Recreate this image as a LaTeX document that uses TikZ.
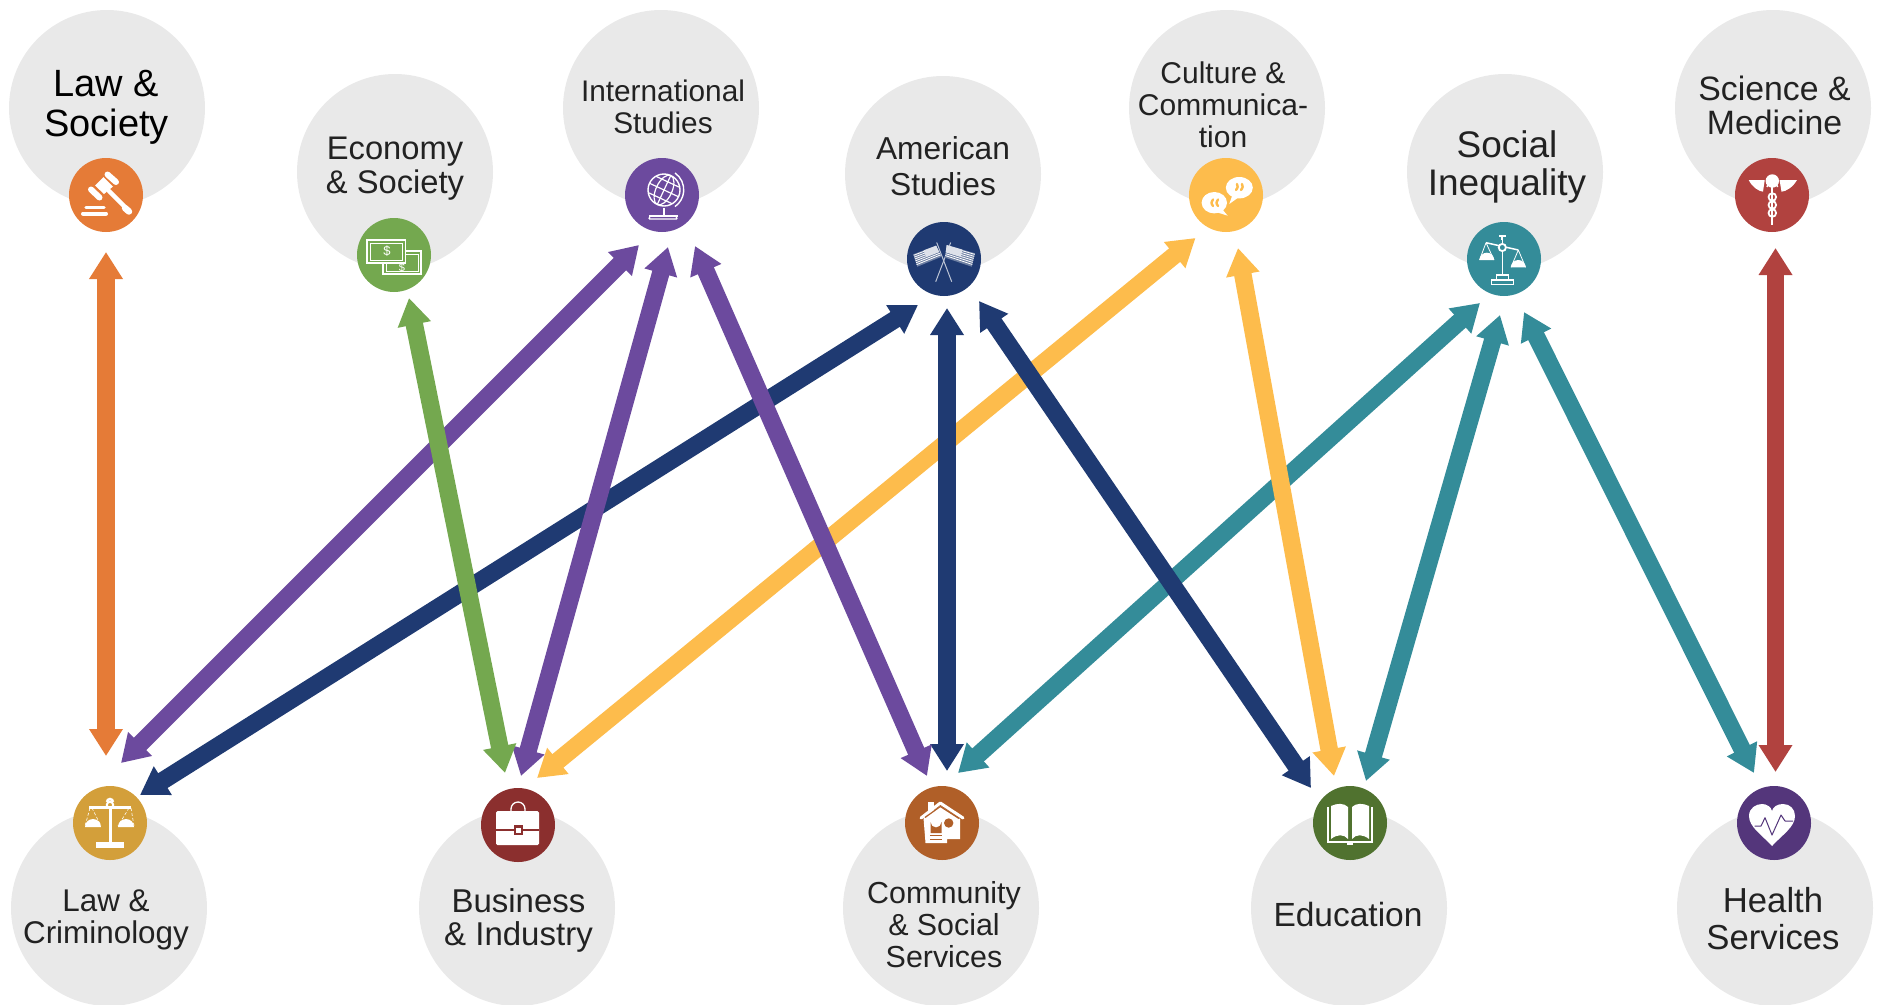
\documentclass[tikz,border=0pt]{standalone}
\usepackage{fontspec}
\setmainfont{Liberation Sans}
\usetikzlibrary{arrows.meta,calc}
\definecolor{greyc}{HTML}{E9E9E9}
\definecolor{txt}{HTML}{222222}
\definecolor{cOrange}{HTML}{E57B37}
\definecolor{cGreen}{HTML}{74A84F}
\definecolor{cPurple}{HTML}{6C4A9E}
\definecolor{cNavy}{HTML}{1F3A72}
\definecolor{cYellow}{HTML}{FDBC4C}
\definecolor{cTeal}{HTML}{348C99}
\definecolor{cRed}{HTML}{B1423F}
\definecolor{cGold}{HTML}{D39F3A}
\definecolor{cWine}{HTML}{8B2F2E}
\definecolor{cBrown}{HTML}{B05F28}
\definecolor{cLeaf}{HTML}{50722F}
\definecolor{cPlum}{HTML}{54367B}
\tikzset{
  bigc/.style={circle,fill=greyc,minimum size=196pt,inner sep=0pt},
  smallc/.style={circle,fill=#1,minimum size=74pt,inner sep=0pt},
  lab/.style={align=center,inner sep=0pt,anchor=base,text=txt},
  arr/.style={draw=#1,line width=17.5pt,{Triangle[width=32pt,length=27pt,fill=#1]}-{Triangle[width=32pt,length=27pt,fill=#1]}},
  ic/.style={white,line cap=round,line join=round},
}
\begin{document}
\begin{tikzpicture}[x=1pt,y=-1pt]
\useasboundingbox (0,0) rectangle (1881,1004);
% big circles
\node[bigc] (bLawSoc) at (107,108) {};
\node[bigc] (bEcon) at (395,172) {};
\node[bigc] (bIntl) at (661,108) {};
\node[bigc] (bAmer) at (943,174) {};
\node[bigc] (bCult) at (1227,108) {};
\node[bigc] (bSocial) at (1505,172) {};
\node[bigc] (bSci) at (1773,108) {};
\node[bigc] (bCrim) at (109,908) {};
\node[bigc] (bBus) at (517,908) {};
\node[bigc] (bComm) at (941,908) {};
\node[bigc] (bEdu) at (1349,908) {};
\node[bigc] (bHealth) at (1775,908) {};
% small circles
\node[smallc=cOrange] (sLawSoc) at (106,195) {};
\node[smallc=cGreen] (sEcon) at (394,255) {};
\node[smallc=cPurple] (sIntl) at (662,195) {};
\node[smallc=cNavy] (sAmer) at (944,259) {};
\node[smallc=cYellow] (sCult) at (1226,195) {};
\node[smallc=cTeal] (sSocial) at (1504,259) {};
\node[smallc=cRed] (sSci) at (1772,195) {};
\node[smallc=cGold] (sCrim) at (110,823) {};
\node[smallc=cWine] (sBus) at (518,825) {};
\node[smallc=cBrown] (sComm) at (942,823) {};
\node[smallc=cLeaf] (sEdu) at (1350,823) {};
\node[smallc=cPlum] (sHealth) at (1774,823) {};
% labels
\node[lab,text=black,font=\fontsize{38}{40}\selectfont] (tLawSoc) at (106.5,136.5) {Law \&\\Society};
\node[lab,font=\fontsize{32.7}{34}\selectfont] (tEcon) at (395,193.5) {Economy\\\& Society};
\node[lab,font=\fontsize{29.8}{32}\selectfont] (tIntl) at (663,133) {International\\Studies};
\node[lab,font=\fontsize{31.7}{36}\selectfont] (tAmer) at (943,195) {American\\Studies};
\node[lab,font=\fontsize{30}{32}\selectfont] (tCult) at (1223,147.5) {Culture \&\\Communica-\\tion};
\node[lab,font=\fontsize{37}{37.5}\selectfont] (tSocial) at (1507,195) {Social\\Inequality};
\node[lab,font=\fontsize{33.8}{34}\selectfont] (tSci) at (1774.5,134) {Science \&\\Medicine};
\node[lab,font=\fontsize{31.4}{31.5}\selectfont] (tCrim) at (106,943) {Law \&\\Criminology};
\node[lab,font=\fontsize{33}{33}\selectfont] (tBus) at (518.5,945) {Business\\\& Industry};
\node[lab,font=\fontsize{30.4}{32}\selectfont] (tComm) at (944,967) {Community\\\& Social\\Services};
\node[lab,font=\fontsize{33.5}{36}\selectfont] (tEdu) at (1348,926) {Education};
\node[lab,font=\fontsize{34.7}{37}\selectfont] (tHealth) at (1773,949.5) {Health\\Services};
% arrow end points
\coordinate (oT) at (106,252); \coordinate (oB) at (106,756);
\coordinate (gT) at (409,298); \coordinate (gB) at (505,773);
\coordinate (p1T) at (639,245); \coordinate (p1B) at (121,763);
\coordinate (p2T) at (668,247); \coordinate (p2B) at (521,776);
\coordinate (p3T) at (695,246); \coordinate (p3B) at (927,776);
\coordinate (n1T) at (918,305); \coordinate (n1B) at (140,795);
\coordinate (n2T) at (947,308); \coordinate (n2B) at (947,771);
\coordinate (n3T) at (979,301); \coordinate (n3B) at (1311,788);
\coordinate (y1T) at (1195.5,238); \coordinate (y1B) at (537,778);
\coordinate (y2T) at (1238,248); \coordinate (y2B) at (1334,776);
\coordinate (t1T) at (1480,303); \coordinate (t1B) at (958,773);
\coordinate (t2T) at (1500,315); \coordinate (t2B) at (1366,781);
\coordinate (t3T) at (1524,312); \coordinate (t3B) at (1754,773);
\coordinate (rT) at (1775.5,248); \coordinate (rB) at (1775.5,772);
% arrows
\draw[arr=cTeal] (t1T) -- (t1B);
\draw[arr=cTeal] (t2T) -- (t2B);
\draw[arr=cTeal] (t3T) -- (t3B);
\draw[arr=cYellow] (y1T) -- (y1B);
\draw[arr=cYellow] (y2T) -- (y2B);
\draw[arr=cNavy] (n1T) -- (n1B);
\draw[arr=cNavy] (n2T) -- (n2B);
\draw[arr=cNavy] (n3T) -- (n3B);
\draw[arr=cPurple] (p1T) -- (p1B);
\draw[arr=cPurple] (p2T) -- (p2B);
\draw[arr=cPurple] (p3T) -- (p3B);
\draw[arr=cGreen] (gT) -- (gB);
\draw[arr=cOrange] (oT) -- (oB);
\draw[arr=cRed] (rT) -- (rB);
% gavel
\begin{scope}[shift={(sLawSoc.center)}]
\draw[ic,line width=6pt] (1.5,-20.5) -- (10,-13);
\draw[ic,line width=6pt] (-15,-5.5) -- (-6.5,2.5);
\fill[white] (-11,-9.5) -- (-2.5,-18) -- (7,-8.5) -- (-2,-1) -- cycle;
\draw[ic,line width=4.5pt] (3,-4) -- (20,13);
\draw[ic,line width=6.5pt] (19,13) -- (23,16.5);
\draw[ic,line width=3.5pt] (-20,12.5) -- (-2,12.5);
\draw[ic,line width=4pt] (-23,18.5) -- (0,18.5);
\end{scope}
% banknotes
\begin{scope}[shift={(sEcon.center)}]
\draw[white,line width=1.8pt] (-11,-4) rectangle (27,19);
\draw[white,line width=0.8pt] (-8,-1) rectangle (24,16);
\node[white,inner sep=0pt,font=\fontsize{11}{11}\selectfont] (dollarB) at (8,13) {\$};
\draw[white,fill=cGreen,line width=1.8pt] (-27,-15) rectangle (11.5,8);
\draw[white,line width=0.8pt] (-24,-12) rectangle (8.5,5);
\node[white,inner sep=0pt,font=\fontsize{13}{13}\selectfont] (dollarA) at (-7,-3.5) {\$};
\end{scope}
% globe
\begin{scope}[shift={(sIntl.center)}]
\begin{scope}[shift={(2,-5)}]
\begin{scope}
\clip (0,0) circle (16);
\begin{scope}[rotate=-25]
\draw[white,line width=1.2pt] (0,-16) -- (0,16);
\draw[white,line width=1.2pt] (0,0) ellipse (8 and 16);
\draw[white,line width=1.2pt] (-16,-9) -- (16,-9) (-16,0) -- (16,0) (-16,9) -- (16,9);
\end{scope}
\end{scope}
\draw[white,line width=1.4pt] (0,0) circle (16);
\draw[white,line width=1.4pt] (11,-17) arc[start angle=-55,end angle=55,radius=20.5];
\draw[white,line width=1.6pt] (0,18) -- (0,25);
\draw[white,fill=white,line width=0.8pt] (-15,25) rectangle (13,26);
\draw[white,line width=1.4pt] (-15,29) -- (13,29) (-14,26) -- (-15,29) (12,26) -- (13,29);
\end{scope}
\end{scope}
% flags
\begin{scope}[shift={(sAmer.center)}]
\draw[white!70!cNavy,line width=1pt] (-7.3,-16.5) -- (7.7,22.7);
\draw[white!70!cNavy,line width=1pt] (6.7,-16.5) -- (-8.3,22.7);
\coordinate (fa) at (-30.7,-4.7); \coordinate (fb) at (-8,-13.3);
\coordinate (fc) at (-2.3,-2.3); \coordinate (fd) at (-26.7,7.7);
\fill[white!35!cNavy] (fa) -- (fb) -- (fc) -- (fd) -- cycle;
\foreach \k in {0.08,0.23,...,0.95}{\draw[white,line width=0.8pt] ($(fa)!\k!(fd)$) -- ($(fb)!\k!(fc)$);}
\fill[white!85!cNavy] ($(fa)!0.45!(fb)$) -- (fb) -- ($(fb)!0.55!(fc)$) -- ($(fa)!0.45!(fb)!0.55!($(fd)!0.45!(fc)$)$) -- cycle;
\coordinate (ga) at (31,-5.7); \coordinate (gb) at (2.7,-14);
\coordinate (gc) at (1,-1.3); \coordinate (gd) at (27.7,7.7);
\fill[white!35!cNavy] (ga) -- (gb) -- (gc) -- (gd) -- cycle;
\foreach \k in {0.08,0.23,...,0.95}{\draw[white,line width=0.8pt] ($(ga)!\k!(gd)$) -- ($(gb)!\k!(gc)$);}
\fill[white!85!cNavy] ($(ga)!0.45!(gb)$) -- (gb) -- ($(gb)!0.55!(gc)$) -- ($(ga)!0.45!(gb)!0.55!($(gd)!0.45!(gc)$)$) -- cycle;
\end{scope}
% speech bubbles
\begin{scope}[shift={(sCult.center)}]
\fill[white] (13.3,-7.3) ellipse (13.5 and 10.7);
\fill[white] (6,1) -- (3.3,9) -- (13,2) -- cycle;
\fill[white] (-11.7,7.7) ellipse (12.7 and 10.7);
\fill[white] (-4,14) -- (1.7,20.7) -- (-10,17) -- cycle;
\draw[cYellow,line width=2.4pt,line cap=round] (11,-11) .. controls (12,-8) .. (10,-5) (16,-11) .. controls (17,-8) .. (15,-5);
\draw[cYellow,line width=2.4pt,line cap=round] (-13,4.5) .. controls (-15,8) .. (-13,11) (-8,4.5) .. controls (-10,8) .. (-8,11);
\end{scope}
% scale, social inequality
\begin{scope}[shift={(sSocial.center)}]
\draw[white,line width=1.5pt] (-1.7,-19) -- (-1.7,17);
\draw[white,line width=2pt] (-5,-23) -- (1.7,-23) (-1.7,-23) -- (-1.7,-19);
\draw[white,line width=1.5pt] (-18,-16.3) -- (14.3,-9);
\draw[white,fill=cTeal,line width=1.8pt] (-1.7,-11.5) circle (3.6);
\draw[white,line width=0.8pt] (-18,-16.3) -- (-24.5,1) (-18,-16.3) -- (-10,1);
\draw[white,line width=0.8pt] (14.3,-9) -- (7,8.3) (14.3,-9) -- (21.6,8.3);
\fill[white] (-24.5,1) arc[start angle=180,end angle=360,radius=7.3] -- cycle;
\fill[white] (7,8.3) arc[start angle=180,end angle=360,radius=7.3] -- cycle;
\draw[white,line width=1.4pt] (-7.3,16) rectangle (4.3,21) (-12.3,21) rectangle (9.3,25.3);
\end{scope}
% caduceus
\begin{scope}[shift={(sSci.center)}]
\fill[white] (-23.3,-15) -- (-7.3,-15) -- (-9,-3.3) .. controls (-13,-3.5) and (-20,-8) .. cycle;
\fill[white] (25,-15) -- (7.5,-15) -- (9.5,-3.3) .. controls (14,-3.5) and (21,-8) .. cycle;
\fill[white] (0.3,-14) circle (6.7);
\draw[white,line width=1.8pt] (0.3,-8) -- (0.3,30);
\draw[white,line width=1.5pt] (-5,-8) arc[start angle=180,end angle=360,radius=5.3];
\foreach \yy in {2,10,18}{\draw[white,line width=1.8pt] (0.3,\yy) circle (3.8);}
\end{scope}
% scale, law and criminology
\begin{scope}[shift={(sCrim.center)}]
\fill[white] (-1.5,-17) rectangle (1.5,22);
\draw[white,line width=2.5pt] (-3,-21) arc[start angle=180,end angle=360,radius=3] ;
\draw[white,line width=2pt] (0,-18) circle (3.2);
\draw[white,line width=3pt] (-21,-15.5) -- (21,-15.5);
\draw[white,line width=0.6pt,densely dashed] (-20,-15) -- (-25,3) (-18,-15) -- (-9,3) (19,-15) -- (8,3) (21,-15) -- (24,3);
\fill[white] (-25,4) arc[start angle=180,end angle=360,radius=8] -- cycle;
\fill[white] (8,4) arc[start angle=180,end angle=360,radius=8] -- cycle;
\fill[white] (-14,19) rectangle (14,25);
\end{scope}
% briefcase
\begin{scope}[shift={(sBus.center)}]
\draw[white,line width=1.3pt] (-7,-14) -- (-7,-16) arc[start angle=180,end angle=360,radius=7] -- (7,-14);
\fill[white,rounded corners=1.5pt] (-22,-14) rectangle (21,20);
\draw[cWine,line width=1.4pt] (-22,5) -- (21,5);
\fill[cWine] (-4.5,0) rectangle (4.5,10);
\fill[white] (-2.5,2.5) rectangle (2.5,7.5);
\end{scope}
% house
\begin{scope}[shift={(sComm.center)}]
\fill[white] (-14.5,-21) rectangle (-8.5,-8);
\fill[white] (-18.5,-5) -- (-1.7,-17) -- (18,-4) -- (18,16) -- (5,16) -- (5,20) -- (-16.5,20) -- cycle;
\draw[white,line width=3pt,line cap=round,line join=round] (-21,-5) -- (-1.7,-20) -- (21,-5);
\draw[cBrown,line width=1.2pt] (-17,-5.5) -- (-1.7,-16.5) -- (17,-4.5);
\fill[cBrown] (-11.5,10) -- (-11.5,-1) arc[start angle=180,end angle=0,radius=5.5] -- (-0.5,10) -- cycle;
\fill[cBrown] (6.7,0) circle (4.7);
\draw[cBrown,line width=1.3pt] (-12,12.5) -- (0,12.5) (-12,16.5) -- (0,16.5);
\end{scope}
% book
\begin{scope}[shift={(sEdu.center)}]
\fill[white] (-19,-17) .. controls (-13,-20) and (-6,-20) .. (-2,-16) -- (-2,16) .. controls (-6,11) and (-13,11) .. (-19,16) -- cycle;
\fill[white] (19,-17) .. controls (13,-20) and (6,-20) .. (2,-16) -- (2,16) .. controls (6,11) and (13,11) .. (19,16) -- cycle;
\draw[white,line width=1.2pt] (-22,-16) -- (-22,19) -- (22,19) -- (22,-16);
\fill[white] (-3,19) rectangle (3,22);
\end{scope}
% heart
\begin{scope}[shift={(sHealth.center)}]
\fill[white] (-2,23) .. controls (-12,12) and (-25,4) .. (-25,-7) .. controls (-25,-15) and (-18,-19) .. (-12,-19) .. controls (-7,-19) and (-3,-16) .. (-2,-12) .. controls (-1,-16) and (3,-19) .. (9,-19) .. controls (16,-19) and (21,-14) .. (21,-7) .. controls (21,4) and (8,12) .. (-2,23) -- cycle;
\draw[cPlum,line width=1pt,line join=round] (-19.5,3) -- (-13,3) -- (-9,-5.3) -- (-2,12) -- (7,-8) -- (11,-2) -- (19,-2);
\end{scope}
\end{tikzpicture}
\end{document}
